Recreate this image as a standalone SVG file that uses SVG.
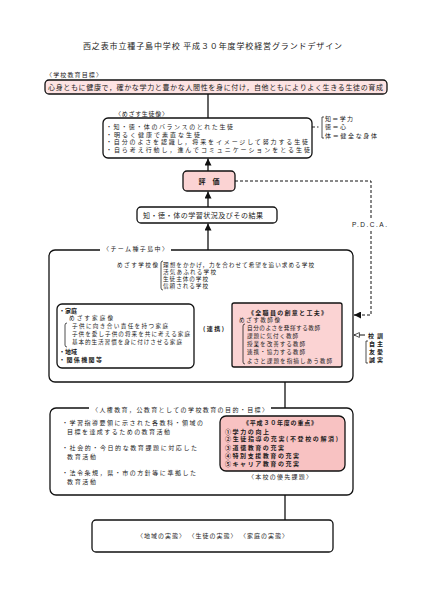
<svg xmlns="http://www.w3.org/2000/svg" width="425" height="600" viewBox="0 0 425 600">
<defs>
<style>
text{font-family:"Noto Sans CJK JP","Noto Sans CJK SC",sans-serif;fill:#1a1a1a;font-size:7px}
.s{font-size:5.6px}
.t{font-size:6px}
.b{font-weight:bold}
.m{text-anchor:middle}
.box{fill:#fff;stroke:#111;stroke-width:1.3}
.pk1{fill:#fde3e3;stroke:#111;stroke-width:1.3}
.pk2{fill:#fbd3d3;stroke:#111;stroke-width:1.3}
.pk3{fill:#f8c2c2;stroke:#111;stroke-width:1.3}
.ln{fill:none;stroke:#111;stroke-width:1.3}
.th{fill:none;stroke:#222;stroke-width:0.8}
.dash{fill:none;stroke:#111;stroke-width:1;stroke-dasharray:3 2}
.dd{fill:none;stroke:#111;stroke-width:0.9;stroke-dasharray:6 2 1.5 2}
</style>
<marker id="ah" viewBox="0 0 10 10" refX="10" refY="5" markerUnits="userSpaceOnUse" markerWidth="8" markerHeight="7" orient="auto"><path d="M0,0 L10,5 L0,10 z" fill="#111"/></marker>
<marker id="oa" viewBox="0 0 10 10" refX="9.5" refY="5" markerUnits="userSpaceOnUse" markerWidth="6" markerHeight="6" orient="auto-start-reverse"><path d="M0.5,1 L9.5,5 L0.5,9 z" fill="#fff" stroke="#111" stroke-width="1.2"/></marker>
</defs>
<rect width="425" height="600" fill="#fff"/>

<g id="title"><text x="83" y="49" style="font-size:8px" textLength="259" lengthAdjust="spacing">西之表市立種子島中学校 平成３０年度学校経営グランドデザイン</text></g>

<g id="connectors">
<line class="ln" x1="208" y1="94" x2="208" y2="118"/>
<line class="ln" x1="208" y1="171" x2="208" y2="158.5" marker-end="url(#ah)"/>
<line class="ln" x1="208" y1="207" x2="208" y2="191.5" marker-end="url(#ah)"/>
<line class="ln" x1="208" y1="250" x2="208" y2="223.5" marker-end="url(#ah)"/>
<polyline class="dash" points="235,181 371,181 371,218"/>
<polyline class="dash" points="371,231 371,315 357,315"/>
<line class="ln" x1="360" y1="315" x2="354" y2="315" marker-end="url(#ah)"/>
<line class="dd" x1="240" y1="127" x2="320" y2="127"/>
<line class="ln" x1="198" y1="335" x2="231" y2="335" style="stroke-width:1" marker-start="url(#oa)" marker-end="url(#oa)"/>
<line class="ln" x1="365" y1="335" x2="354" y2="335" style="stroke-width:1" marker-end="url(#oa)"/>
<line class="ln" x1="285" y1="408" x2="285" y2="367.5" marker-end="url(#ah)"/>
<line class="ln" x1="285" y1="520" x2="285" y2="481" marker-end="url(#ah)"/>
</g>

<g id="goal">
<text x="46" y="76.5" class="t" textLength="56" lengthAdjust="spacing">〈学校教育目標〉</text>
<rect class="pk1" x="45" y="80" width="342" height="14" rx="4"/>
<text x="48" y="90" textLength="335" lengthAdjust="spacing">心身ともに健康で，確かな学力と豊かな人間性を身に付け，自他ともによりよく生きる生徒の育成</text>
</g>

<g id="student-image">
<text x="115" y="116" class="t" textLength="53" lengthAdjust="spacing">〈めざす生徒像〉</text>
<rect class="box" x="103" y="118" width="209" height="40" rx="5"/>
<text x="106" y="129.3" class="t" textLength="127" lengthAdjust="spacing">・知・徳・体のバランスのとれた生徒</text>
<text x="106" y="136.8" class="t" textLength="94" lengthAdjust="spacing">・明るく健康で素直な生徒</text>
<text x="106" y="144.3" class="t" textLength="202" lengthAdjust="spacing">・自分のよさを認識し，将来をイメージして努力する生徒</text>
<text x="106" y="151.8" class="t" textLength="204" lengthAdjust="spacing">・自ら考え行動し，進んでコミュニケーションをとる生徒</text>
</g>

<g id="chitokutai-note">
<path class="th" d="M324,117 h-2 v21 h2"/>
<text x="325" y="120.8" class="t" textLength="28" lengthAdjust="spacing">知＝学力</text>
<text x="325" y="129.3" class="t" textLength="21" lengthAdjust="spacing">徳＝心</text>
<text x="325" y="137.8" class="t" textLength="52" lengthAdjust="spacing">体＝健全な身体</text>
</g>

<g id="evaluation">
<rect class="pk2" x="183" y="171" width="52" height="20" rx="4"/>
<text class="m b" x="209" y="183.5">評　価</text>
</g>

<g id="results">
<rect class="box" x="137" y="207" width="140" height="16" rx="4"/>
<text x="143" y="217.5" textLength="120" lengthAdjust="spacing">知・徳・体の学習状況及びその結果</text>
</g>

<g id="pdca"><text x="352" y="227" style="font-family:'Liberation Sans',sans-serif;font-size:6.5px" textLength="35" lengthAdjust="spacing">P.D.C.A.</text></g>

<g id="team">
<rect class="box" x="49" y="250" width="304" height="132" rx="6"/>
<rect x="100" y="246" width="71" height="8" fill="#fff"/>
<text x="103" y="250.5" class="t" textLength="65" lengthAdjust="spacing">〈チーム種子島中〉</text>
<text x="117" y="267" class="s" textLength="41" lengthAdjust="spacing">めざす学校像</text>
<path class="th" d="M163,261 q-2,0 -2,2 v25 q0,2 2,2"/>
<text x="163" y="267" class="s" textLength="151" lengthAdjust="spacing">理想をかかげ，力を合わせて希望を追い求める学校</text>
<text x="163" y="274" class="s" textLength="53" lengthAdjust="spacing">活気あふれる学校</text>
<text x="163" y="281" class="s" textLength="45" lengthAdjust="spacing">生徒主体の学校</text>
<text x="163" y="288" class="s" textLength="45" lengthAdjust="spacing">信頼される学校</text>
</g>

<g id="family">
<rect class="box" x="57" y="304" width="137" height="64" rx="5"/>
<text x="59" y="313.3" class="b t">・家庭</text>
<text x="69" y="320.3" class="s" textLength="44" lengthAdjust="spacing">めざす家庭像</text>
<path class="th" d="M67,323 q-2,0 -2,2 v20 q0,2 2,2"/>
<text x="72" y="328.1" class="s" textLength="96" lengthAdjust="spacing">子供に向き合い責任を持つ家庭</text>
<text x="72" y="336.1" class="s" textLength="118" lengthAdjust="spacing">子供を愛し子供の将来を共に考える家庭</text>
<text x="72" y="344.1" class="s" textLength="110" lengthAdjust="spacing">基本的生活習慣を身に付けさせる家庭</text>
<text x="59" y="354.2" class="b t">・地域</text>
<text x="59" y="362.3" class="b t" textLength="43" lengthAdjust="spacing">・関係機関等</text>
</g>

<g id="renkei"><text x="203" y="331" class="b t" textLength="21" lengthAdjust="spacing">(連携)</text></g>

<g id="staff">
<rect class="pk2" x="232" y="303" width="110" height="64" rx="2"/>
<text x="248" y="314.6" class="b t" textLength="79" lengthAdjust="spacing">《全職員の創意と工夫》</text>
<text x="239" y="322.2" class="s" textLength="41" lengthAdjust="spacing">めざす教師像</text>
<path class="th" d="M245,324 q-2,0 -2,2 v36 q0,2 2,2"/>
<text x="247" y="329.7" class="s" textLength="73" lengthAdjust="spacing">自分のよさを発揮する教師</text>
<text x="247" y="337.5" class="s" textLength="51" lengthAdjust="spacing">課題に気付く教師</text>
<text x="247" y="345.6" class="s" textLength="58" lengthAdjust="spacing">授業を改善する教師</text>
<text x="247" y="353.9" class="s" textLength="58" lengthAdjust="spacing">連携・協力する教師</text>
<text x="247" y="362.6" class="s" textLength="85" lengthAdjust="spacing">よさと課題を指摘しあう教師</text>
</g>

<g id="school-motto">
<text x="368" y="337.8" class="b t" textLength="15" lengthAdjust="spacing">校訓</text>
<path class="th" d="M368,341 h-2 v22 h2"/>
<text x="369" y="345.8" class="b t" textLength="14" lengthAdjust="spacing">自主</text>
<text x="369" y="354" class="b t" textLength="14" lengthAdjust="spacing">友愛</text>
<text x="369" y="362.3" class="b t" textLength="14" lengthAdjust="spacing">誠実</text>
</g>

<g id="education-goals">
<rect class="box" x="50" y="408" width="303" height="87" rx="6"/>
<rect x="89" y="404" width="182" height="8" fill="#fff"/>
<text x="92" y="412.3" class="t" textLength="176" lengthAdjust="spacing">〈人権教育，公教育としての学校教育の目的・目標〉</text>
<text x="62" y="425.3" class="t" textLength="141" lengthAdjust="spacing">・学習指導要領に示された各教科・領域の</text>
<text x="67" y="434.3" class="t" textLength="103" lengthAdjust="spacing">目標を達成するための教育活動</text>
<text x="62" y="450.3" class="t" textLength="135" lengthAdjust="spacing">・社会的・今日的な教育課題に対応した</text>
<text x="67" y="459.3" class="t" textLength="29" lengthAdjust="spacing">教育活動</text>
<text x="62" y="475.3" class="t" textLength="134" lengthAdjust="spacing">・法令条規，県・市の方針等に準拠した</text>
<text x="67" y="483.8" class="t" textLength="29" lengthAdjust="spacing">教育活動</text>
</g>

<g id="priorities">
<rect class="pk3" x="220" y="416" width="125" height="55" rx="6"/>
<text x="243" y="425.4" class="b t" textLength="74" lengthAdjust="spacing">《平成３０年度の重点》</text>
<text x="225" y="433.5" class="b t" textLength="44" lengthAdjust="spacing">①学力の向上</text>
<text x="225" y="441.4" class="b t" textLength="113" lengthAdjust="spacing">②生徒指導の充実(不登校の解消)</text>
<text x="225" y="449.5" class="b t" textLength="59" lengthAdjust="spacing">③道徳教育の充実</text>
<text x="225" y="457.6" class="b t" textLength="74" lengthAdjust="spacing">④特別支援教育の充実</text>
<text x="225" y="465.7" class="b t" textLength="74" lengthAdjust="spacing">⑤キャリア教育の充実</text>
<text x="248" y="479.3" class="t" textLength="64" lengthAdjust="spacing">〈本校の優先課題〉</text>
</g>

<g id="realities">
<rect class="box" x="92" y="520" width="241" height="32" rx="4"/>
<text x="137" y="538.3" class="t" textLength="151" lengthAdjust="spacing">〈地域の実態〉 〈生徒の実態〉 〈家庭の実態〉</text>
</g>
</svg>
